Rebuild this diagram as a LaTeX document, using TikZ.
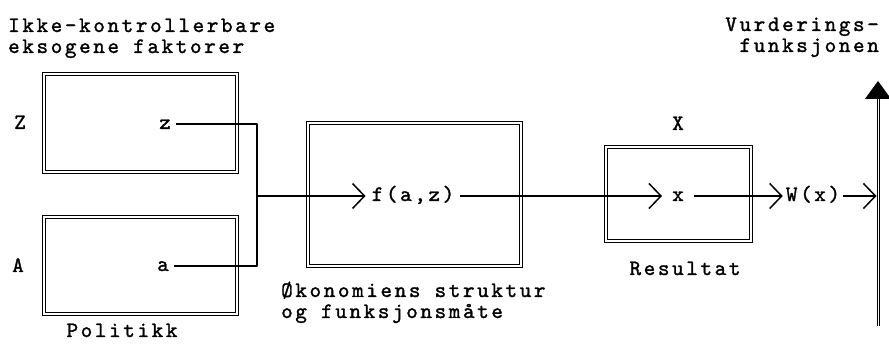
\documentclass[tikz,border=0pt]{standalone}
\usepackage{fontspec}
\usetikzlibrary{arrows.meta}
\newfontfamily\twfont{lmmono10-regular.otf}[LetterSpace=12,FakeBold=1.4]
\newcommand{\tw}{\twfont\fontsize{22}{21}\selectfont}
\tikzset{
  every node/.style={font=\tw, inner sep=0pt},
  dbox/.style={draw, line width=1.1pt, double distance=2.2pt, inner sep=0pt},
  conn/.style={line width=1.5pt},
  barb/.style={conn, -{Straight Barb[length=12pt,width=25pt,line width=1.5pt]}},
  lbl/.style={align=left, anchor=base west},
  var/.style={text height=13pt, text depth=3pt},
}
\begin{document}
\begin{tikzpicture}[x=1pt,y=-1pt]
\useasboundingbox (0,0) rectangle (889,344);

% boxes
\node[dbox, minimum width=193pt, minimum height=98pt] (zbox) at (140.5,123) {};
\node[dbox, minimum width=193pt, minimum height=97pt] (abox) at (140.5,265.5) {};
\node[dbox, minimum width=213pt, minimum height=143pt] (fbox) at (414.5,194.5) {};
\node[dbox, minimum width=145pt, minimum height=94pt] (xbox) at (678.5,194) {};

% captions (anchored at the baseline of their last line)
\node[lbl] (ikke) at (8,53) {Ikke-kontrollerbare\\eksogene faktorer};
\node[align=right, anchor=base east] (vurd) at (879,52) {Vurderings-\\funksjonen};
\node[lbl] (okon) at (281,318) {Økonomiens struktur\\og funksjonsmåte};
\node[anchor=base] (pol) at (122,337) {Politikk};
\node[anchor=base] (res) at (685,275) {Resultat};
\node[anchor=base] (Zl) at (20,129) {Z};
\node[anchor=base] (Al) at (18,272) {A};
\node[anchor=base] (Xl) at (678,130) {X};

% variables
\node[var, inner xsep=5pt] (z) at (165,124) {z};
\node[var, inner xsep=5pt] (a) at (163,266) {a};
\node[var, inner xsep=6pt] (f) at (413,196) {f(a,z)};
\node[var, inner xsep=10pt] (x) at (678,196) {x};
\node[var, inner xsep=3pt] (w) at (813,196) {W(x)};

% junction of z and a
\coordinate (jz) at (257,124);
\coordinate (ja) at (257,266);
\coordinate (jm) at (257,196);
\draw[conn, line join=round] (z.east) -- (jz) -- (ja) -- (a.east);

% flow
\draw[barb] (jm) -- (f.west);
\draw[barb] (f.east) -- (x.west);
\draw[barb] (x.east) -- (w.west);

% value axis
\coordinate (axb) at (878,326);
\coordinate (axt) at (878,82);
\coordinate (axw) at (876.5,196);
\draw[line width=1pt, double distance=1pt, -{Triangle[length=18pt,width=26pt,sep=-1pt]}] (axb) -- (axt);
\draw[barb] (w.east) -- (axw);
\end{tikzpicture}
\end{document}
